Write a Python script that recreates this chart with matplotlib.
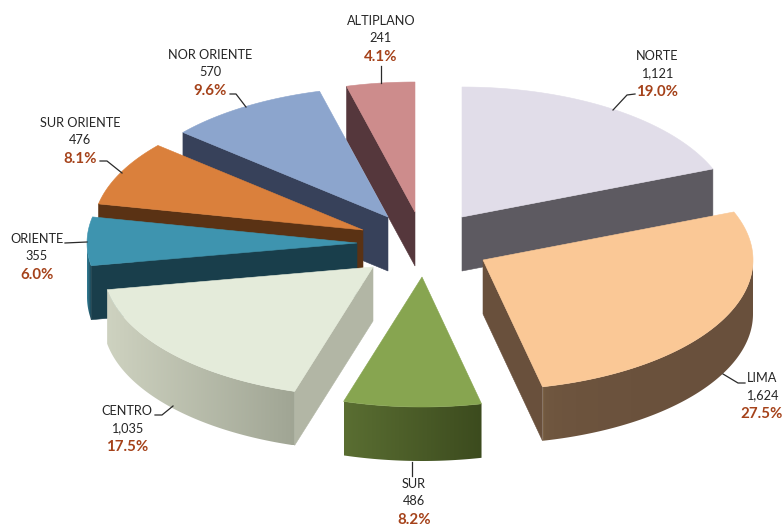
"""Exploded 3D-style pie of regional counts, drawn as polygons on pixel-sized axes."""
import numpy as np
import matplotlib

matplotlib.use("Agg")
import matplotlib.pyplot as plt  # noqa: E402
from matplotlib.patches import Polygon  # noqa: E402

plt.rcParams["font.family"] = ["Lato", "DejaVu Sans"]

# data, clockwise from 12 o'clock
regions = ["NORTE", "LIMA", "SUR", "CENTRO", "ORIENTE", "SUR ORIENTE", "NOR ORIENTE", "ALTIPLANO"]
counts = [1121, 1624, 486, 1035, 355, 476, 570, 241]
count_labels = ["1,121", "1,624", "486", "1,035", "355", "476", "570", "241"]
pct_labels = ["19.0%", "27.5%", "8.2%", "17.5%", "6.0%", "8.1%", "9.6%", "4.1%"]

# layout, in image pixels
W, H = 784, 526
RX, RY, DEPTH = 270, 130, 54
apex_x = [462, 483, 422, 373, 357, 363, 388, 415]
apex_y = [217, 260, 277, 267, 243, 230, 217, 212]
label_x = [657, 762, 414, 127, 37, 80, 210, 381]
label_y = [56, 378, 484, 411, 239, 123, 55, 21]
leaders = [
    [(635, 94), (627, 95), (613, 110)],
    [(745, 383), (738, 383), (723, 374)],
    [(412, 476), (412, 462)],
    [(155, 415), (162, 415), (173, 406)],
    [(65, 243), (87, 242)],
    [(100, 161), (107, 161), (122, 173)],
    [(230, 94), (236, 94), (246, 107)],
    [(381, 66), (381, 83)],
]

top_colors = ["#e1dde9", "#fac896", "#87a550", "#e4ebda", "#3e94af", "#da803c", "#8ca5cd", "#cd8c8c"]
wall_colors = ["#5d5a61", "#69503c", "#566a32", "#b2b6a5", "#193e4b", "#5a3214", "#37415a", "#55373c"]
arc_left = ["#5d5a61", "#7d6446", "#5a6e32", "#ced2c0", "#327d96", "#5a3214", "#37415a", "#55373c"]
arc_right = ["#5d5a61", "#69503c", "#3c4b1e", "#a0a594", "#193e4b", "#5a3214", "#37415a", "#55373c"]
arc_power = [1, 0.12, 1, 1, 1, 1, 1, 1]  # lima's highlight falls off fast

# painter's order, back to front
draw_order = [7, 0, 6, 5, 4, 1, 3, 2]


def to_rgb(c):
    return np.array(matplotlib.colors.to_rgb(c))


def rim(cx, cy, a):
    a = np.radians(a)
    return cx + RX * np.sin(a), cy - RY * np.cos(a)


def draw_slice(ax, i, a0, a1, z):
    cx, cy = apex_x[i], apex_y[i]

    # flat walls on the cut sides, only the ones facing the viewer
    for angle, visible in ((a1, a1 < 180), (a0, a0 > 180)):
        if visible:
            x, y = rim(cx, cy, angle)
            pts = [(cx, cy), (x, y), (x, y + DEPTH), (cx, cy + DEPTH)]
            ax.add_patch(Polygon(pts, fc=wall_colors[i], ec=wall_colors[i], lw=0.4, zorder=z))

    # curved wall, front half of the ellipse only, gradient image clipped to it
    lo, hi = max(a0, 90), min(a1, 270)
    if lo < hi:
        xs, ys = rim(cx, cy, np.linspace(lo, hi, 120))
        outline = np.column_stack([np.r_[xs, xs[::-1]], np.r_[ys, ys[::-1] + DEPTH]])
        t = np.linspace(0, 1, 256)[None, :, None] ** arc_power[i]
        left, right = to_rgb(arc_left[i]), to_rgb(arc_right[i])
        grad = left + (right - left) * t
        im = ax.imshow(grad, extent=(xs.min(), xs.max(), ys.max() + DEPTH, ys.min()),
                       aspect="auto", interpolation="bilinear", zorder=z + 0.1)
        clip = Polygon(outline, transform=ax.transData)
        im.set_clip_path(clip)

    # top face
    xs, ys = rim(cx, cy, np.linspace(a0, a1, 120))
    pts = np.column_stack([np.r_[cx, xs], np.r_[cy, ys]])
    ax.add_patch(Polygon(pts, fc=top_colors[i], ec=top_colors[i], lw=0.4, zorder=z + 0.2))


def main():
    fig = plt.figure(figsize=(W / 100, H / 100), dpi=100)
    ax = fig.add_axes([0, 0, 1, 1])

    edges = np.r_[0, np.cumsum(counts)] / np.sum(counts) * 360
    for z, i in enumerate(draw_order, start=1):
        draw_slice(ax, i, edges[i], edges[i + 1], z)

    for i in range(len(regions)):
        xs, ys = zip(*leaders[i])
        ax.plot(xs, ys, color="#2a2a2a", lw=0.9, zorder=20)
        x, y = label_x[i], label_y[i]
        ax.text(x, y, regions[i], ha="center", va="center", fontsize=9.2, color="#262626")
        ax.text(x, y + 17, count_labels[i], ha="center", va="center", fontsize=9.2, color="#262626")
        ax.text(x, y + 36, pct_labels[i], ha="center", va="center", fontsize=10.8,
                fontweight="bold", color="#a5421a")

    ax.set_xlim(0, W)
    ax.set_ylim(H, 0)
    ax.axis("off")
    fig.savefig("out.png", dpi=100)
    plt.close(fig)


if __name__ == "__main__":
    main()
